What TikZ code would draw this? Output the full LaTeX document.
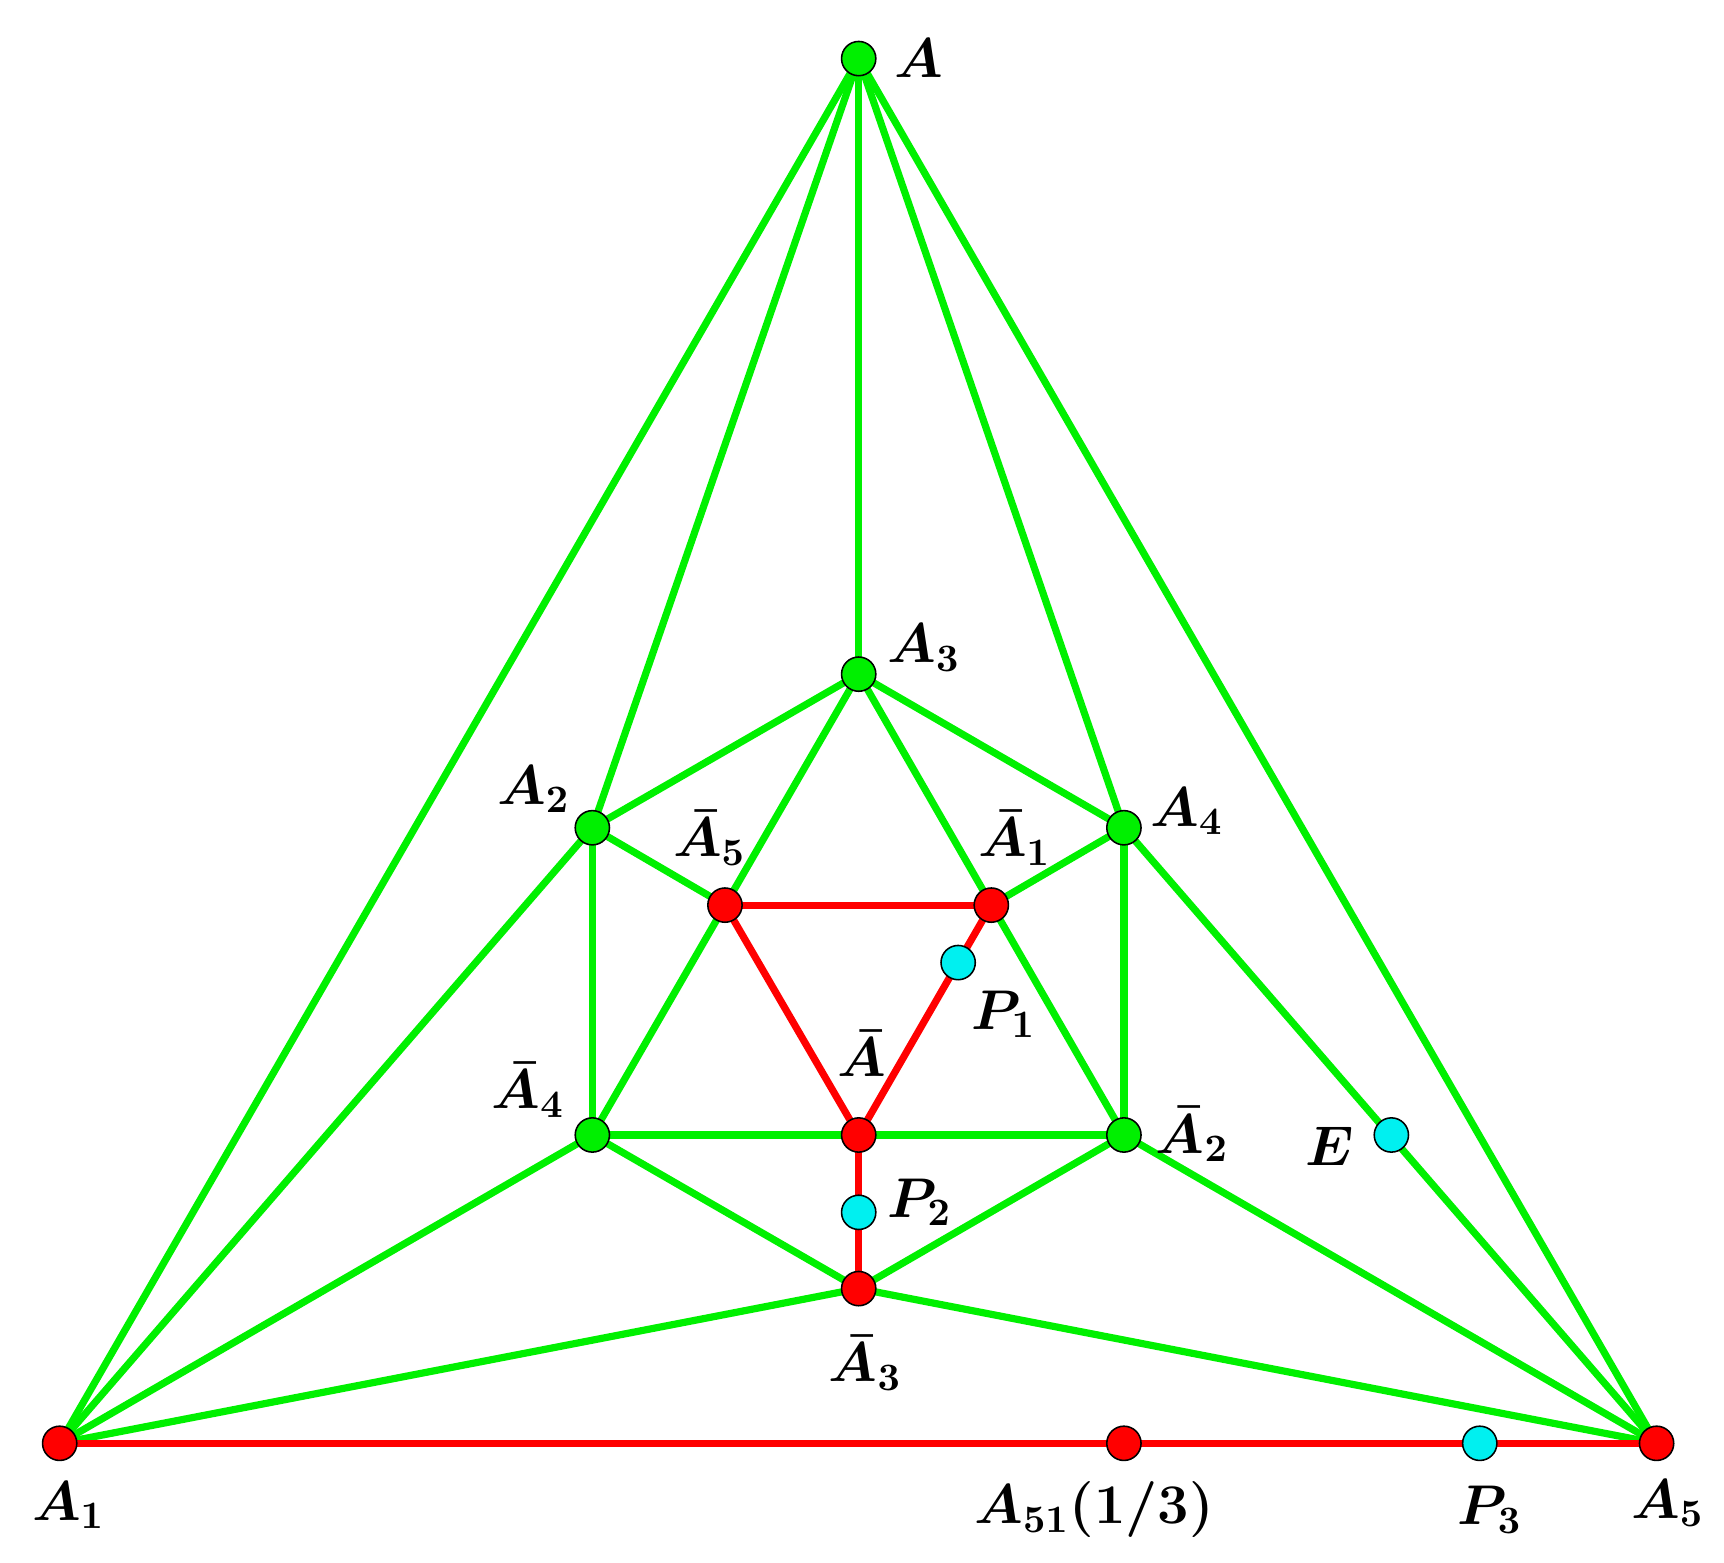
\documentclass[tikz,border=0pt]{standalone}
\usepackage{amsmath}
\definecolor{gr}{RGB}{0,240,0}
\definecolor{rd}{RGB}{255,0,0}
\definecolor{cy}{RGB}{0,240,240}
\begin{document}
\begin{tikzpicture}[x=0.01cm,y=-0.01cm,
 ge/.style={gr,line width=0.065cm},
 re/.style={rd,line width=0.065cm},
 pt/.style={circle,draw=black,line width=0.4pt,minimum size=0.31cm,inner sep=0pt},
 gp/.style={pt,fill=gr}, rp/.style={pt,fill=rd}, cp/.style={pt,fill=cy},
 lb/.style={font=\fontsize{14}{16}\selectfont\boldmath}]
\useasboundingbox (4,4) rectangle (1564,1418);
\coordinate (A) at (781,57);
\coordinate (A1) at (58,1310);
\coordinate (A5) at (1503,1310);
\coordinate (A3) at (781,614);
\coordinate (A2) at (540,753);
\coordinate (A4) at (1021,753);
\coordinate (Ab4) at (540,1031);
\coordinate (Ab2) at (1021,1031);
\coordinate (Ab3) at (781,1170);
\coordinate (Ab5) at (660,823);
\coordinate (Ab1) at (901,823);
\coordinate (Ab) at (781,1031);
\coordinate (P1) at (871,875);
\coordinate (P2) at (781,1101);
\coordinate (E) at (1263,1031);
\coordinate (A51) at (1021,1310);
\coordinate (P3) at (1343,1310);
\foreach \a/\b in {A/A1,A/A5,A/A3,A/A2,A/A4,A3/A2,A3/A4,A3/Ab4,A3/Ab2,A2/Ab5,Ab1/A4,A2/Ab4,A4/Ab2,Ab4/Ab2,A2/A1,A4/A5,A1/Ab4,A1/Ab3,Ab4/Ab3,Ab2/Ab3,Ab3/A5,Ab2/A5}
  \draw[ge] (\a) -- (\b);
\foreach \a/\b in {A1/A5,Ab5/Ab1,Ab5/Ab,Ab/Ab1,Ab/Ab3}
  \draw[re] (\a) -- (\b);
\foreach \p in {A,A3,A2,A4,Ab4,Ab2} \node[gp] (n\p) at (\p) {};
\foreach \p in {A1,A5,Ab3,Ab5,Ab1,Ab,A51} \node[rp] (n\p) at (\p) {};
\foreach \p in {P1,P2,E,P3} \node[cp] (n\p) at (\p) {};
\node[lb] at (835,57) {$A$};
\node[lb] at (840,590) {$A_3$};
\node[lb] at (487,718) {$A_2$};
\node[lb] at (1078,738) {$A_4$};
\node[lb] at (646,762) {$\bar A_5$};
\node[lb] at (922,762) {$\bar A_1$};
\node[lb] at (912,922) {$P_1$};
\node[lb] at (784,957) {$\bar A$};
\node[lb] at (482,990) {$\bar A_4$};
\node[lb] at (1083,1030) {$\bar A_2$};
\node[lb] at (1207,1041) {$E$};
\node[lb] at (836,1092) {$P_2$};
\node[lb] at (787,1237) {$\bar A_3$};
\node[lb] at (66,1366) {$A_1$};
\node[lb] at (994,1370) {$A_{51}(1/3)$};
\node[lb] at (1352,1370) {$P_3$};
\node[lb] at (1513,1364) {$A_5$};
\end{tikzpicture}
\end{document}
